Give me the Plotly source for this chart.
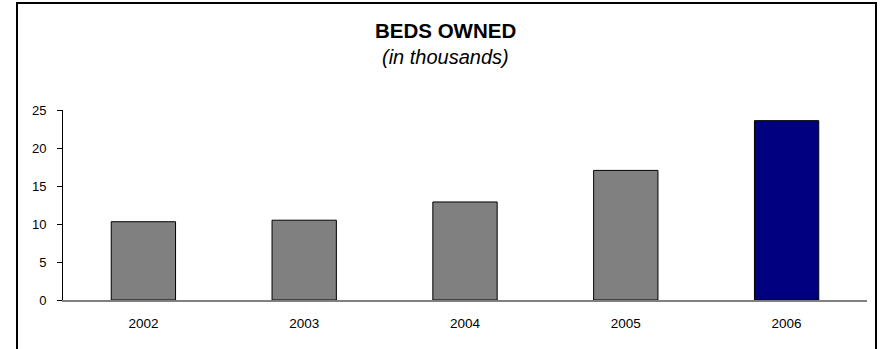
import plotly.graph_objects as go

years = ["2002", "2003", "2004", "2005", "2006"]
beds = [10.3, 10.5, 12.9, 17.05, 23.6]
bar_colors = ["#808080", "#808080", "#808080", "#808080", "#000080"]
y_ticks = [0, 5, 10, 15, 20, 25]
title_text = "<b>BEDS OWNED</b>"
subtitle_text = "<i>(in thousands)</i>"

fig = go.Figure()
fig.add_trace(go.Bar(
    x=years, y=beds, width=0.4,
    marker=dict(color=bar_colors, line=dict(color="#000000", width=1)),
    hoverinfo="x+y",
))

fig.update_layout(
    width=885, height=349,
    margin=dict(l=63, r=18, t=110, b=49),
    paper_bgcolor="white", plot_bgcolor="white",
    showlegend=False,
    font=dict(family="Liberation Sans, Arial, sans-serif", color="#000000"),
    annotations=[
        dict(text=title_text, xref="paper", yref="paper", x=0.476, y=1.421,
             xanchor="center", yanchor="middle", showarrow=False,
             font=dict(size=20.5, family="Liberation Sans, Arial, sans-serif")),
        dict(text=subtitle_text, xref="paper", yref="paper", x=0.476, y=1.279,
             xanchor="center", yanchor="middle", showarrow=False,
             font=dict(size=20, family="Liberation Sans, Arial, sans-serif")),
    ],
    shapes=[
        dict(type="rect", xref="paper", yref="paper",
             x0=(17 - 63) / 804, x1=(876 - 63) / 804,
             y0=-0.4, y1=(300 - 3) / 190,
             line=dict(color="#000000", width=2), fillcolor="rgba(0,0,0,0)",
             layer="below"),
    ],
)

fig.update_xaxes(
    type="category", showline=True, linecolor="#808080", linewidth=2,
    ticks="", showgrid=False, zeroline=False,
    tickfont=dict(size=13.5), ticklabelstandoff=10,
)
fig.update_yaxes(
    range=[0, 25], tickvals=y_ticks, showline=True, linecolor="#000000", linewidth=1,
    ticks="outside", ticklen=5, tickcolor="#000000", showgrid=False, zeroline=False,
    tickfont=dict(size=13), ticklabelstandoff=8,
)

fig.write_html("out.html")
